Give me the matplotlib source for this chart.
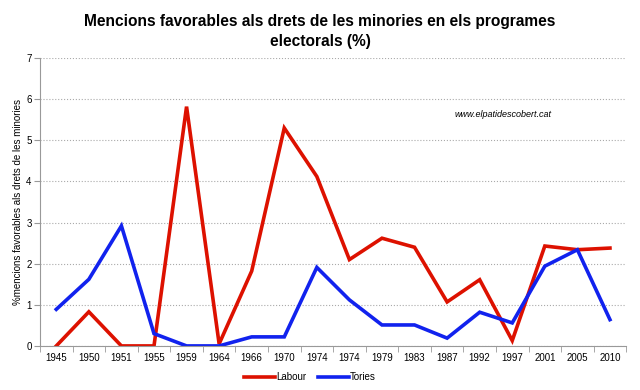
import matplotlib
matplotlib.use('Agg')
import matplotlib.pyplot as plt
import numpy as np

plt.rcParams['font.family'] = ['Liberation Sans', 'DejaVu Sans']

years = ['1945', '1950', '1951', '1955', '1959', '1964', '1966', '1970', '1974',
         '1974', '1979', '1983', '1987', '1992', '1997', '2001', '2005', '2010']
labour = [0, 0.83, 0, 0, 5.82, 0.05, 1.82, 5.3, 4.12, 2.1, 2.62, 2.4, 1.07, 1.61,
          0.13, 2.43, 2.34, 2.38]
tories = [0.89, 1.62, 2.92, 0.3, 0, 0, 0.22, 0.22, 1.91, 1.12, 0.51, 0.51, 0.19,
          0.82, 0.56, 1.94, 2.34, 0.64]

fig = plt.figure(figsize=(6.4, 3.9), dpi=100)
ax = fig.add_axes([0.0625, 0.113, 0.916, 0.738])

x = np.arange(len(years))
ax.plot(x, labour, color='#dd1100', lw=2.6, label='Labour', solid_joinstyle='miter')
ax.plot(x, tories, color='#1122ee', lw=2.6, label='Tories', solid_joinstyle='miter')

ax.set_xlim(-0.5, len(years) - 0.5)
ax.set_ylim(0, 7)
ax.set_xticks(x)
ax.set_xticklabels(years, fontsize=7)
ax.set_xticks(np.arange(-0.5, len(years), 1), minor=True)
ax.tick_params(axis='x', which='major', length=0, pad=5)
ax.tick_params(axis='x', which='minor', length=4, color='#999999', direction='out')
ax.set_yticks(range(0, 8))
ax.tick_params(axis='y', labelsize=7, length=4, color='#999999', pad=2)

ax.grid(axis='y', linestyle=':', color='#aaaaaa', lw=0.8)
for s in ['top', 'right']:
    ax.spines[s].set_visible(False)
for s in ['left', 'bottom']:
    ax.spines[s].set_color('#999999')
ax.set_axisbelow(True)

ax.set_ylabel('%mencions favorables als drets de les minories', fontsize=7, labelpad=2)
fig.suptitle('Mencions favorables als drets de les minories en els programes\nelectorals (%)',
             fontsize=11.2, fontweight='bold', y=0.965, linespacing=1.45)

ax.text(0.79, 0.805, 'www.elpatidescobert.cat', transform=ax.transAxes,
        fontsize=6.5, style='italic', ha='center', va='center')

leg = ax.legend(loc='upper center', bbox_to_anchor=(0.46, -0.06), ncol=2, frameon=False,
                fontsize=7, handlelength=3.2, handletextpad=0.1, columnspacing=1.2)

fig.savefig('out.png', dpi=100)
